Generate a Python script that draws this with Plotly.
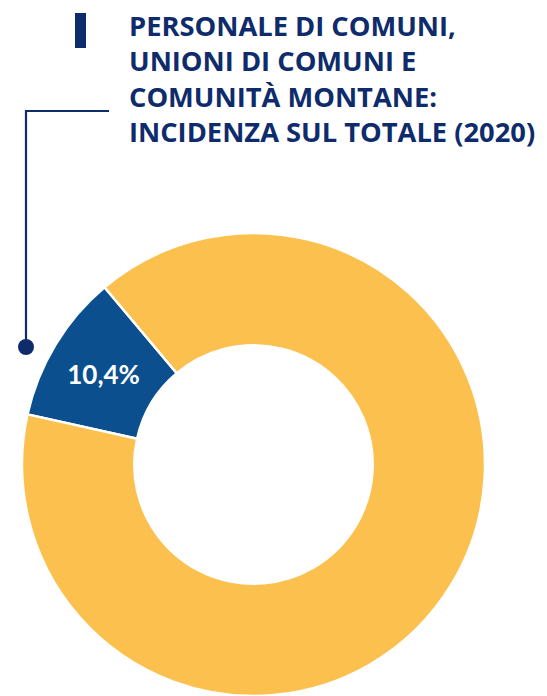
import plotly.graph_objects as go

# Data
labels = ["Comuni, Unioni di comuni e Comunità montane", "Altro personale"]
values = [10.4, 89.6]
slice_colors = ["#0B4F8F", "#FCC04E"]
title_lines = [
    "PERSONALE DI COMUNI,",
    "UNIONI DI COMUNI E",
    "COMUNITÀ MONTANE:",
    "INCIDENZA SUL TOTALE (2020)",
]

# The page body has an 8px default margin: size the figure to the visible area
OFF = 8
W, H = 547 - OFF, 696 - OFF
NAVY = "#0E2B6B"


def px(x):  # window pixel -> paper x
    return (x - OFF) / W


def py(y):  # window pixel -> paper y
    return 1 - (y - OFF) / H


fig = go.Figure()
fig.add_trace(
    go.Pie(
        labels=labels,
        values=values,
        hole=0.515,
        sort=False,
        direction="counterclockwise",
        rotation=-77.5,
        marker=dict(colors=slice_colors, line=dict(color="white", width=2.5)),
        texttemplate=["%{percent:.1%}", ""],
        textposition="inside",
        insidetextorientation="horizontal",
        textfont=dict(family="Lato", size=26, color="white", weight="bold"),
        hoverinfo="label+percent",
        showlegend=False,
        domain=dict(x=[px(22), px(485)], y=[0, py(233)]),
    )
)

fig.add_annotation(
    x=px(127), y=py(5), xref="paper", yref="paper",
    xanchor="left", yanchor="top", align="left", showarrow=False,
    text="<br>".join(title_lines),
    font=dict(family="Open Sans", size=27.3, color=NAVY, weight="bold"),
)

shapes = [
    dict(type="rect", xref="paper", yref="paper",
         x0=px(75), x1=px(86), y0=py(48), y1=py(13),
         fillcolor=NAVY, line=dict(width=0)),
    dict(type="path", xref="paper", yref="paper",
         path=f"M {px(109)} {py(111)} L {px(26)} {py(111)} L {px(26)} {py(347)}",
         line=dict(color=NAVY, width=2.2)),
    dict(type="circle", xref="paper", yref="paper",
         x0=px(18), x1=px(34), y0=py(355), y1=py(339),
         fillcolor=NAVY, line=dict(width=0)),
]

fig.update_layout(
    width=W, height=H,
    margin=dict(l=0, r=0, t=0, b=0),
    paper_bgcolor="white", plot_bgcolor="white",
    separators=",.",
    shapes=shapes,
)

fig.write_html("out.html")
